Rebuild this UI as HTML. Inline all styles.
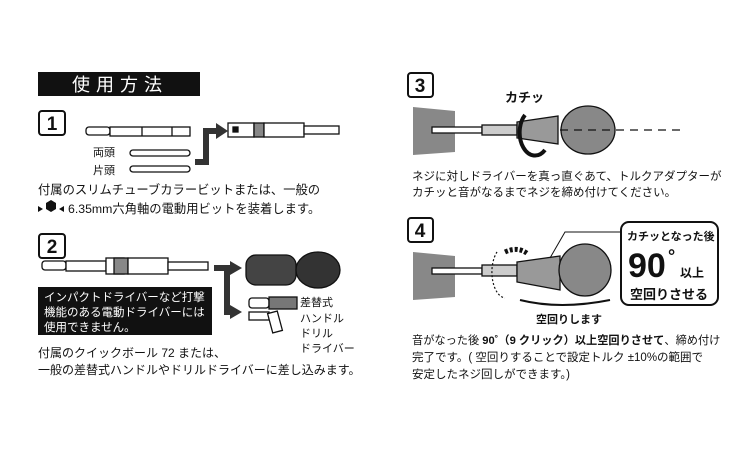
<!DOCTYPE html>
<html><head><meta charset="utf-8"><style>
body{margin:0;background:#fff}
svg text{font-family:"Liberation Sans","Noto Sans CJK JP",sans-serif;fill:#111}
</style></head><body>
<svg width="750" height="450" viewBox="0 0 750 450" xmlns="http://www.w3.org/2000/svg">
<rect width="750" height="450" fill="#fff"/>
<rect x="38" y="72" width="162" height="24" fill="#111"/>
<text x="72" y="91" font-size="18" style="fill:#fff" letter-spacing="6">使用方法</text>

<g fill="#fff" stroke="#111" stroke-width="2">
<rect x="39" y="111" width="26" height="24" rx="3"/>
<rect x="39" y="234" width="26" height="24" rx="3"/>
<rect x="408" y="73" width="25" height="24" rx="3"/>
<rect x="408" y="218" width="25" height="24" rx="3"/>
</g>
<g font-size="19" font-weight="bold" text-anchor="middle">
<text x="52" y="130">1</text><text x="52" y="253">2</text>
<text x="420" y="92">3</text><text x="420" y="237">4</text>
</g>

<g stroke="#111" stroke-width="1.3" fill="#fff">
<rect x="86" y="127" width="24" height="8" rx="3"/>
<rect x="110" y="127" width="80" height="9"/>
<line x1="142" y1="127" x2="142" y2="136"/><line x1="172" y1="127" x2="172" y2="136"/>
<rect x="130" y="150" width="60" height="6" rx="3"/>
<rect x="130" y="166" width="60" height="6" rx="3"/>
<rect x="228" y="123" width="26" height="14"/>
<rect x="254" y="123" width="10" height="14" fill="#888"/>
<rect x="264" y="123" width="40" height="14"/>
<rect x="304" y="126" width="35" height="8"/>
<rect x="233" y="127" width="5" height="5" fill="#111"/>
</g>
<path d="M195,162 H206 V131 H218" fill="none" stroke="#333" stroke-width="6"/>
<polygon points="216,123 228,131 216,139" fill="#333"/>
<text x="93" y="156" font-size="11">両頭</text>
<text x="93" y="174" font-size="11">片頭</text>
<text x="38" y="194" font-size="12.3">付属のスリムチューブカラービットまたは、一般の</text>
<polygon points="38,206 43,209 38,212" fill="#111"/>
<polygon points="46,203 51,200 56,203 56,209 51,212 46,209" fill="#111"/>
<polygon points="64,206 59,209 64,212" fill="#111"/>
<text x="68" y="213" font-size="12.3">6.35mm六角軸の電動用ビットを装着します。</text>

<g stroke="#111" stroke-width="1.3" fill="#fff">
<rect x="42" y="261" width="24" height="9" rx="3"/>
<rect x="66" y="261" width="40" height="10"/>
<rect x="106" y="258" width="18" height="16"/>
<rect x="114" y="258" width="14" height="16" fill="#888"/>
<rect x="128" y="258" width="40" height="16"/>
<rect x="168" y="262" width="40" height="8"/>
<rect x="246" y="255" width="50" height="30" rx="10" fill="#444"/>
<ellipse cx="318" cy="270" rx="22" ry="18" fill="#333"/>
<rect x="249" y="298" width="20" height="10" rx="3"/>
<rect x="269" y="297" width="28" height="12" fill="#777"/>
<rect x="249" y="312" width="20" height="8"/>
<rect x="270" y="312" width="10" height="20" transform="rotate(-15 275 322)"/>
</g>
<path d="M214,268 H232 M227,268 V312 H232" fill="none" stroke="#333" stroke-width="6"/>
<polygon points="230,261 242,268 230,275" fill="#333"/>
<polygon points="230,305 242,312 230,319" fill="#333"/>
<text x="300" y="306" font-size="11">差替式</text>
<text x="300" y="322" font-size="11">ハンドル</text>
<text x="300" y="337" font-size="11">ドリル</text>
<text x="300" y="352" font-size="11">ドライバー</text>
<rect x="38" y="287" width="174" height="48" fill="#111"/>
<text x="44" y="301" font-size="11.5" style="fill:#fff">インパクトドライバーなど打撃</text>
<text x="44" y="316" font-size="11.5" style="fill:#fff">機能のある電動ドライバーには</text>
<text x="44" y="331" font-size="11.5" style="fill:#fff">使用できません。</text>
<text x="38" y="357" font-size="12">付属のクイックボール 72 または、</text>
<text x="38" y="374" font-size="12">一般の差替式ハンドルやドリルドライバーに差し込みます。</text>

<polygon points="413,107 455,111 455,152 413,155" fill="#888"/>
<g stroke="#111" stroke-width="1.3">
<rect x="432" y="127" width="50" height="6" fill="#fff"/>
<rect x="482" y="125" width="35" height="10" fill="#ccc"/>
<path d="M517,122 L558,116 L558,144 L517,138Z" fill="#999"/>
<ellipse cx="588" cy="130" rx="27" ry="24" fill="#888"/>
</g>
<line x1="560" y1="130" x2="680" y2="130" stroke="#111" stroke-width="1.3" stroke-dasharray="8,6"/>
<path d="M525,115 A12,18 0 0 0 545,150" fill="none" stroke="#111" stroke-width="4"/>
<text x="505" y="102" font-size="13" font-weight="bold">カチッ</text>
<text x="412" y="180" font-size="11.5">ネジに対しドライバーを真っ直ぐあて、トルクアダプターが</text>
<text x="412" y="196" font-size="11.5">カチッと音がなるまでネジを締め付けてください。</text>

<polygon points="413,252 455,256 455,297 413,300" fill="#888"/>
<g stroke="#111" stroke-width="1.3">
<rect x="432" y="268" width="50" height="6" fill="#fff"/>
<rect x="482" y="265" width="35" height="11" fill="#ccc"/>
<path d="M517,262 L560,256 L560,290 L517,282Z" fill="#999"/>
<ellipse cx="585" cy="270" rx="26" ry="26" fill="#888"/>
</g>
<path d="M497,252 A14,26 0 0 0 505,298" fill="none" stroke="#111" stroke-width="1.2" stroke-dasharray="2,2"/>
<path d="M505,252 Q518,246 528,254" fill="none" stroke="#111" stroke-width="5" stroke-dasharray="3,2"/>
<path d="M520,300 Q560,310 610,300" fill="none" stroke="#111" stroke-width="2"/>
<path d="M550,258 L565,232 H622" fill="none" stroke="#111" stroke-width="1"/>
<text x="536" y="323" font-size="11" font-weight="bold">空回りします</text>
<rect x="621" y="222" width="97" height="83" rx="8" fill="#fff" stroke="#111" stroke-width="2"/>
<text x="627" y="240" font-size="11" font-weight="bold">カチッとなった後</text>
<text x="628" y="277" font-size="34" font-weight="bold">90</text>
<text x="668" y="262" font-size="18" font-weight="bold">°</text>
<text x="680" y="277" font-size="12" font-weight="bold">以上</text>
<text x="630" y="299" font-size="13" font-weight="bold">空回りさせる</text>
<text x="412" y="344" font-size="11.2">音がなった後 <tspan font-weight="bold">90˚（9 クリック）以上空回りさせて</tspan>、締め付け</text>
<text x="412" y="361" font-size="11.5">完了です。( 空回りすることで設定トルク ±10%の範囲で</text>
<text x="412" y="378" font-size="11.5">安定したネジ回しができます。)</text>
</svg>
</body></html>
